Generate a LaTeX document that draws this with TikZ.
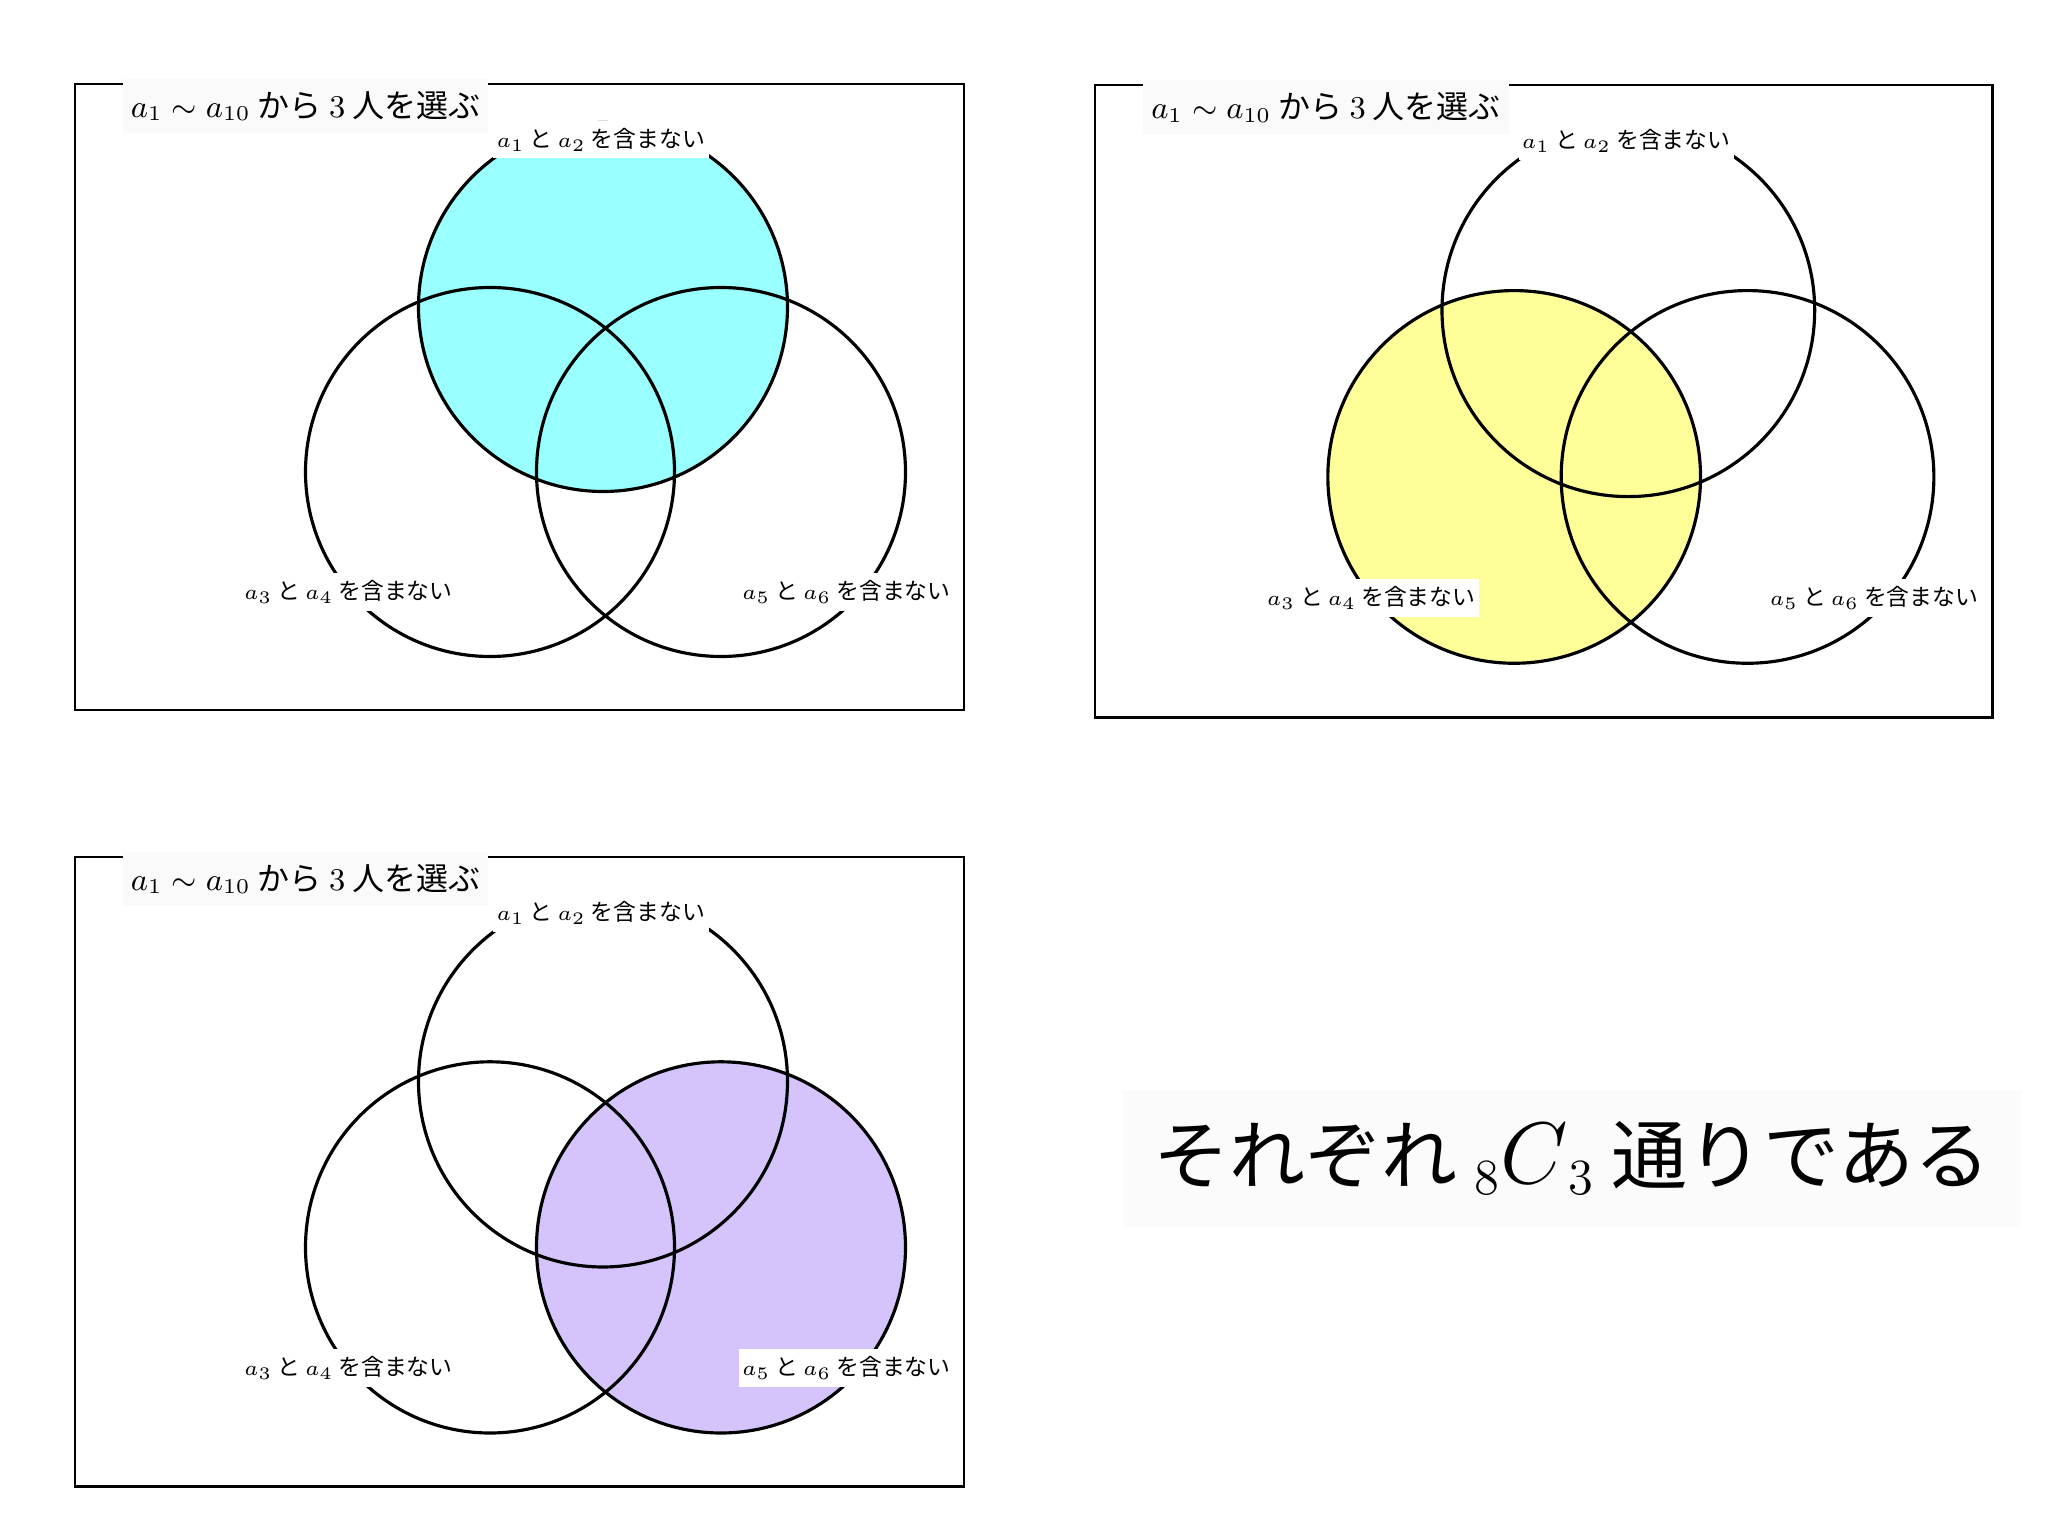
\documentclass[tikz,border=0pt]{standalone}
\usepackage{amsmath}
\usepackage{fontspec}
\newfontfamily\jp{Noto Sans CJK JP}
\definecolor{aqua}{HTML}{99FFFF}
\definecolor{lemon}{HTML}{FFFF99}
\definecolor{lilac}{HTML}{D4C4FB}

\begin{document}
\begin{tikzpicture}[
  frame/.style={line width=0.8pt},
  ring/.style={line width=0.9pt},
  title/.style={fill=gray!4,inner xsep=2.3pt,inner ysep=3.4pt,anchor=west,
    font=\fontsize{9.1}{11}\selectfont\jp},
  tag/.style={fill=white,inner xsep=1pt,inner ysep=2pt,
    font=\fontsize{6.5}{8}\selectfont\jp},
  note/.style={fill=gray!3,minimum width=8.98cm,minimum height=1.37cm,
    font=\fontsize{21.6}{26}\selectfont\jp}]
\useasboundingbox (0,0) rectangle (20.48,-15.36);

% a_1, a_2 not chosen
\begin{scope}[shift={(0.75,-0.84)}]
\coordinate (top1) at (5.28,-2.23);
\coordinate (left1) at (4.15,-3.88);
\coordinate (right1) at (6.46,-3.88);
\draw [frame] (0,0) rectangle (8.89,-6.26);
\fill [aqua] (top1) circle (1.845);
\draw [ring] (top1) circle (1.845);
\draw [ring] (left1) circle (1.845);
\draw [ring] (right1) circle (1.845);
\node [title] (title1) at (0.47,-0.22) {\(a_1 \sim a_{10}\) から \(3\) 人を選ぶ};
\node [tag] (tagt1) at (5.26,-0.555) {\(a_1\) と \(a_2\) を含まない};
\node [tag] (tagl1) at (2.735,-5.08) {\(a_3\) と \(a_4\) を含まない};
\node [tag] (tagr1) at (7.715,-5.08) {\(a_5\) と \(a_6\) を含まない};
\end{scope}

% a_3, a_4 not chosen
\begin{scope}[shift={(10.95,-0.85)},scale=1.01]
\coordinate (top2) at (5.28,-2.23);
\coordinate (left2) at (4.15,-3.88);
\coordinate (right2) at (6.46,-3.88);
\draw [frame] (0,0) rectangle (8.89,-6.26);
\fill [lemon] (left2) circle (1.845);
\draw [ring] (top2) circle (1.845);
\draw [ring] (left2) circle (1.845);
\draw [ring] (right2) circle (1.845);
\node [title] (title2) at (0.47,-0.22) {\(a_1 \sim a_{10}\) から \(3\) 人を選ぶ};
\node [tag] (tagt2) at (5.26,-0.555) {\(a_1\) と \(a_2\) を含まない};
\node [tag] (tagl2) at (2.735,-5.08) {\(a_3\) と \(a_4\) を含まない};
\node [tag] (tagr2) at (7.715,-5.08) {\(a_5\) と \(a_6\) を含まない};
\end{scope}

% a_5, a_6 not chosen
\begin{scope}[shift={(0.75,-8.57)},yscale=1.006]
\coordinate (top3) at (5.28,-2.23);
\coordinate (left3) at (4.15,-3.88);
\coordinate (right3) at (6.46,-3.88);
\draw [frame] (0,0) rectangle (8.89,-6.26);
\fill [lilac] (right3) circle (1.845);
\draw [ring] (top3) circle (1.845);
\draw [ring] (left3) circle (1.845);
\draw [ring] (right3) circle (1.845);
\node [title] (title3) at (0.47,-0.22) {\(a_1 \sim a_{10}\) から \(3\) 人を選ぶ};
\node [tag] (tagt3) at (5.26,-0.555) {\(a_1\) と \(a_2\) を含まない};
\node [tag] (tagl3) at (2.735,-5.08) {\(a_3\) と \(a_4\) を含まない};
\node [tag] (tagr3) at (7.715,-5.08) {\(a_5\) と \(a_6\) を含まない};
\end{scope}

\node [note] (ans) at (15.72,-11.58)
  {それぞれ \({}_8\mbox{\fontsize{27.4}{32}\selectfont\(C\)}_3\) 通りである};
\end{tikzpicture}
\end{document}
